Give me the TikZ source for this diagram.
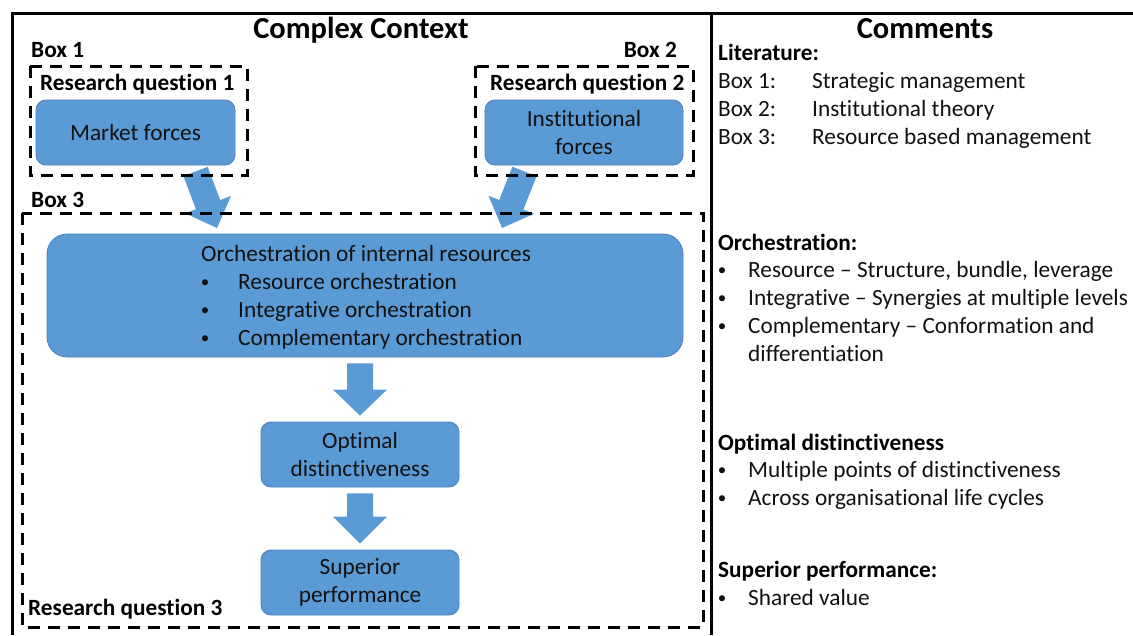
\documentclass[tikz,border=0pt]{standalone}
\usepackage{fontspec}
\setmainfont{Carlito}[Ligatures={NoCommon,NoContextual,NoRare}]
\usetikzlibrary{calc}
\definecolor{boxblue}{HTML}{5B9BD5}
\definecolor{boxedge}{HTML}{4A7EBB}
\definecolor{ink}{HTML}{111111}
\newcommand\bodysize{\fontsize{23.3}{28}\selectfont}
\newcommand\titlesize{\fontsize{30.5}{34}\selectfont}
\newcommand\bul{\raisebox{1.2pt}{\fontsize{17}{17}\selectfont•}}
% block arrow: tail, tip, head length, shaft half width, head half width
\newcommand\blockarrow[5]{%
  \fill[boxblue]
    ($(#1)!#4!90:(#2)$) --
    ($($(#2)!#3!(#1)$)!#4!90:(#2)$) --
    ($($(#2)!#3!(#1)$)!#5!90:(#2)$) --
    (#2) --
    ($($(#2)!#3!(#1)$)!#5!-90:(#2)$) --
    ($($(#2)!#3!(#1)$)!#4!-90:(#2)$) --
    ($(#1)!#4!-90:(#2)$) -- cycle;}
\begin{document}
\begin{tikzpicture}[x=1pt,y=-1pt,
  bluebox/.style={draw=boxedge,line width=0.8pt,fill=boxblue,rounded corners=10pt,
    inner sep=0pt,align=center,text=ink,font=\bodysize},
  dashbox/.style={draw=black,line width=3pt,dash pattern=on 12pt off 8pt},
  frame/.style={draw=black,line width=3pt},
  lbl/.style={inner sep=0pt,font=\bodysize\bfseries,text=black},
  txt/.style={inner sep=0pt,font=\bodysize,text=ink},
  ttl/.style={inner sep=0pt,font=\titlesize\bfseries,text=black}]
\useasboundingbox (0,0) rectangle (1133,635);

% outer frame and column divider
\draw[frame] (12,635) -- (12,13) -- (1133,13);
\draw[frame] (711,13) -- (711,635);

% titles
\node[ttl,anchor=base] (ctx) at (361,38) {Complex Context};
\node[ttl,anchor=base] (com) at (925,38) {Comments};

% blue boxes
\node[bluebox,minimum width=199pt,minimum height=65pt] (market) at (135.5,132.5) {Market forces};
\node[bluebox,minimum width=198pt,minimum height=65pt] (inst) at (584,132.5) {Institutional\\forces};
\node[bluebox,rounded corners=20pt,minimum width=636pt,minimum height=123pt] (orch) at (365,295.5) {};
\node[bluebox,minimum width=198pt,minimum height=65pt] (opt) at (360,454.5) {Optimal\\distinctiveness};
\node[bluebox,minimum width=198pt,minimum height=65pt] (sup) at (360,582.5) {Superior\\performance};

% text inside the orchestration box
\node[txt,anchor=base] (orchhead) at (366,261) {Orchestration of internal resources};
\foreach \t [count=\i] in {Resource orchestration,Integrative orchestration,Complementary orchestration}{
  \node[txt,anchor=base] (ob\i) at (205,261+28*\i) {\bul};
  \node[txt,anchor=base west] (ot\i) at (238,261+28*\i) {\t};
}

% arrows
\coordinate (a1t) at (195.5,171.5);
\coordinate (a1h) at (217,228);
\coordinate (a2t) at (524.5,171.5);
\coordinate (a2h) at (502,228);
\blockarrow{a1t}{a1h}{25pt}{13pt}{24.5pt}
\blockarrow{a2t}{a2h}{25pt}{13pt}{24.5pt}
\coordinate (d1t) at ($(orch.south -| opt.north)+(0,6)$);
\coordinate (d1h) at ($(opt.north)+(0,-6)$);
\coordinate (d2t) at ($(opt.south)+(0,6)$);
\coordinate (d2h) at ($(sup.north)+(0,-6)$);
\blockarrow{d1t}{d1h}{26pt}{13pt}{27pt}
\blockarrow{d2t}{d2h}{27pt}{13pt}{27pt}

% dashed grouping boxes
\draw[dashbox] (30,66) rectangle (247,175);
\draw[dashbox] (475,66) rectangle (693,175);
\draw[dashbox] (22,213) rectangle (703,627);

% box labels
\node[lbl,anchor=base west] (box1) at (31,57) {Box 1};
\node[lbl,anchor=base east] (box2) at (677,57) {Box 2};
\node[lbl,anchor=base west] (box3) at (31,207) {Box 3};
\node[lbl,anchor=base west] (rq1) at (40,90) {Research question 1};
\node[lbl,anchor=base west] (rq2) at (490,90) {Research question 2};
\node[lbl,anchor=base west] (rq3) at (28,615) {Research question 3};

% comments column
\node[lbl,anchor=base west] (lit) at (718,60) {Literature:};
\foreach \a/\b [count=\i] in {Box 1:/Strategic management,Box 2:/Institutional theory,Box 3:/Resource based management}{
  \node[txt,anchor=base west] (lk\i) at (718,60+28*\i) {\a};
  \node[txt,anchor=base west] (lv\i) at (812,60+28*\i) {\b};
}
\node[lbl,anchor=base west] (orc) at (718,250) {Orchestration:};
\node[txt,anchor=base] (cb1) at (722,277) {\bul};
\node[txt,anchor=base west] (ct1) at (748,277) {Resource – Structure, bundle, leverage};
\node[txt,anchor=base] (cb2) at (722,305) {\bul};
\node[txt,anchor=base west] (ct2) at (748,305) {Integrative – Synergies at multiple levels};
\node[txt,anchor=base] (cb3) at (722,333) {\bul};
\node[txt,anchor=base west] (ct3) at (748,333) {Complementary – Conformation and};
\node[txt,anchor=base west] (ct4) at (748,361) {differentiation};

\node[lbl,anchor=base west] (odh) at (718,450) {Optimal distinctiveness};
\node[txt,anchor=base] (db1) at (722,477) {\bul};
\node[txt,anchor=base west] (dt1) at (748,477) {Multiple points of distinctiveness};
\node[txt,anchor=base] (db2) at (722,505) {\bul};
\node[txt,anchor=base west] (dt2) at (748,505) {Across organisational life cycles};

\node[lbl,anchor=base west] (sph) at (718,577) {Superior performance:};
\node[txt,anchor=base] (sb1) at (722,605) {\bul};
\node[txt,anchor=base west] (st1) at (748,605) {Shared value};
\end{tikzpicture}
\end{document}
